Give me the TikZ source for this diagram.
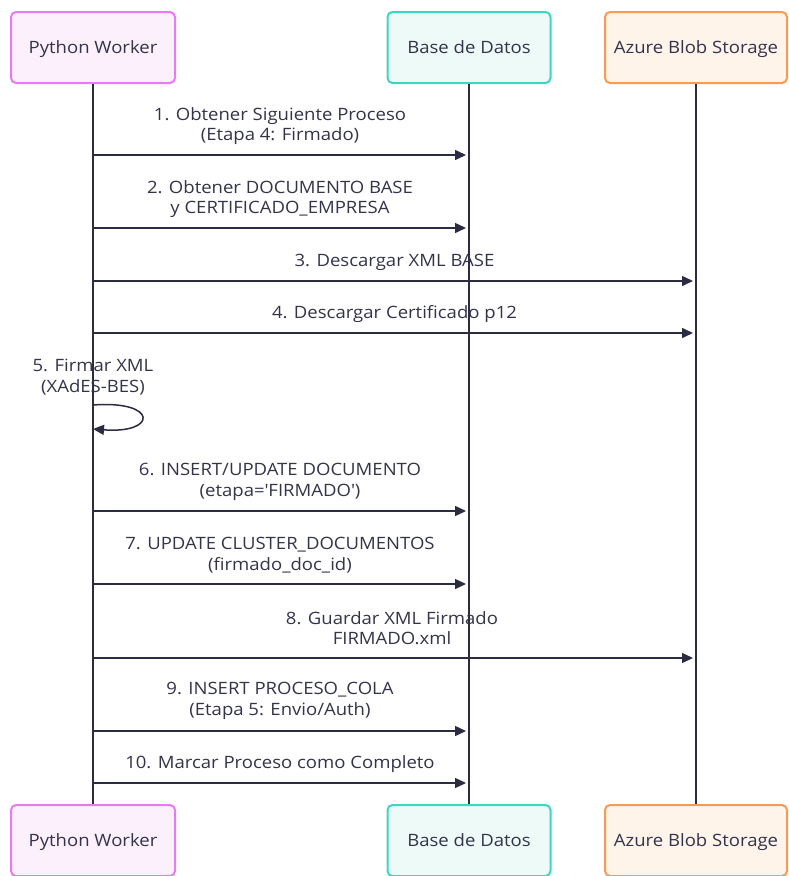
\documentclass[tikz,border=0pt]{standalone}
\usepackage{fontspec}
\setmainfont{Open Sans}[FakeStretch=1.09]
\usetikzlibrary{arrows.meta}
\definecolor{ink}{HTML}{2B2B42}
\definecolor{txt}{HTML}{33334A}
\definecolor{pwfill}{HTML}{FDF0FD}
\definecolor{pwdraw}{HTML}{E77CF2}
\definecolor{dbfill}{HTML}{EEFAF8}
\definecolor{dbdraw}{HTML}{3DD6C0}
\definecolor{azfill}{HTML}{FFF4EA}
\definecolor{azdraw}{HTML}{FB9A52}
\tikzset{
  actor/.style={rounded corners=5pt, line width=2pt, minimum height=71pt, inner sep=0pt, text=txt, text height=14pt, text depth=2pt, font=\fontsize{17}{20}\selectfont},
  pw/.style={actor, fill=pwfill, draw=pwdraw, minimum width=164pt},
  db/.style={actor, fill=dbfill, draw=dbdraw, minimum width=163pt},
  az/.style={actor, fill=azfill, draw=azdraw, minimum width=182pt},
  life/.style={ink, line width=1.5pt},
  msg/.style={ink, line width=1.5pt, -{Triangle[length=11pt,width=10pt]}, shorten >=3pt},
  lbl/.style={text=txt, font=\fontsize{17}{20.5}\selectfont, align=center, inner sep=0pt}
}
\begin{document}
\begin{tikzpicture}[x=1pt,y=-1pt]
\useasboundingbox (0,0) rectangle (788,876);
% actors
\node[pw] (pwt) at (93,47.5) {Python Worker};
\node[db] (dbt) at (469,47.5) {Base de Datos};
\node[az] (azt) at (696,47.5) {Azure Blob Storage};
\node[pw] (pwb) at (93,840.5) {Python Worker};
\node[db] (dbb) at (469,840.5) {Base de Datos};
\node[az] (azb) at (696,840.5) {Azure Blob Storage};
% lifelines
\draw[life] (pwt.south) -- (pwb.north);
\draw[life] (dbt.south) -- (dbb.north);
\draw[life] (azt.south) -- (azb.north);
% message anchor points
\foreach \n/\y in {1/155,2/228,3/281,4/333,6/511,7/584,8/658,9/731,10/783}{
  \coordinate (p\n) at (pwt.south |- 0,\y);
  \coordinate (d\n) at (dbt.south |- 0,\y);
  \coordinate (a\n) at (azt.south |- 0,\y);
}
% messages
\draw[msg] (p1) -- (d1);
\node[lbl] (l1) at (280,126) {1. Obtener Siguiente Proceso\\(Etapa 4: Firmado)};
\draw[msg] (p2) -- (d2);
\node[lbl] (l2) at (280,199) {2. Obtener DOCUMENTO BASE\\y CERTIFICADO\_EMPRESA};
\draw[msg] (p3) -- (a3);
\node[lbl] (l3) at (394.5,262) {3. Descargar XML BASE};
\draw[msg] (p4) -- (a4);
\node[lbl] (l4) at (394.5,314) {4. Descargar Certificado p12};
% self message
\coordinate (s1) at (pwt.south |- 0,405);
\coordinate (s2) at (pwt.south |- 0,429);
\draw[ink, line width=1.5pt, -{Triangle[length=11pt,width=10pt]}] (s1) .. controls (158,400) and (158,434) .. (s2);
\node[lbl] (l5) at (93,377) {5. Firmar XML\\(XAdES-BES)};
\draw[msg] (p6) -- (d6);
\node[lbl] (l6) at (280,482) {6. INSERT/UPDATE DOCUMENTO\\(etapa=\textquotesingle FIRMADO\textquotesingle)};
\draw[msg] (p7) -- (d7);
\node[lbl] (l7) at (280,555) {7. UPDATE CLUSTER\_DOCUMENTOS\\(firmado\_doc\_id)};
\draw[msg] (p8) -- (a8);
\node[lbl] (l8) at (392,628) {8. Guardar XML Firmado\\FIRMADO.xml};
\draw[msg] (p9) -- (d9);
\node[lbl] (l9) at (280,701) {9. INSERT PROCESO\_COLA\\(Etapa 5: Envio/Auth)};
\draw[msg] (p10) -- (d10);
\node[lbl] (l10) at (280,764) {10. Marcar Proceso como Completo};
\end{tikzpicture}
\end{document}
